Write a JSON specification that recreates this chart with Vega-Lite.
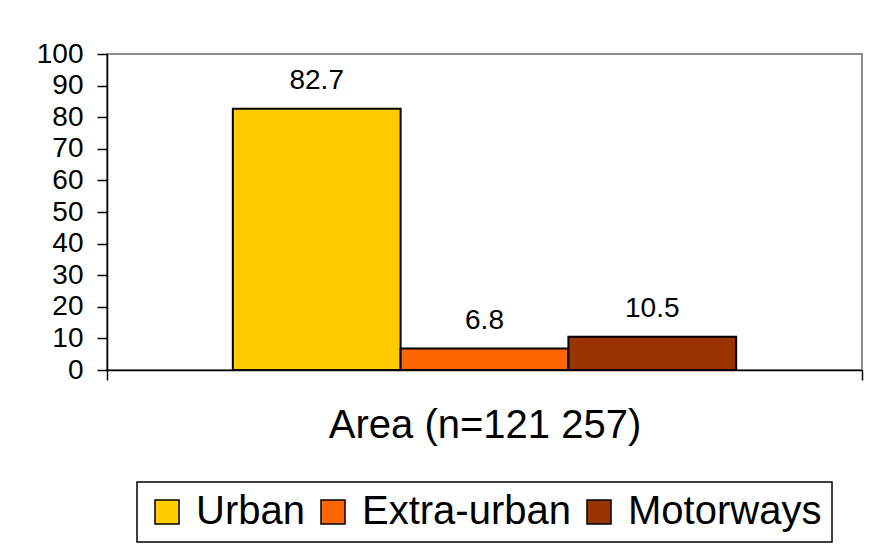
{
  "$schema": "https://vega.github.io/schema/vega-lite/v6.json",
  "width": 755,
  "height": 316,
  "autosize": {"type": "none"},
  "padding": {"left": 107, "top": 54, "right": 9, "bottom": 178},
  "background": "white",
  "config": {
    "font": "Liberation Sans",
    "view": {"stroke": "#8c8c8c", "strokeWidth": 2},
    "axis": {"grid": false, "domainColor": "black", "tickColor": "black", "labelColor": "black", "titleColor": "black", "domainWidth": 1.5, "tickWidth": 1.5, "labelFont": "Liberation Sans", "titleFont": "Liberation Sans"},
    "legend": {"strokeColor": "black", "strokeWidth": 1.5, "fillColor": "white", "symbolStrokeColor": "black", "symbolStrokeWidth": 1.5}
  },
  "data": {
    "values": [
      {"area": "Area", "type": "Urban", "pct": 82.7},
      {"area": "Area", "type": "Extra-urban", "pct": 6.8},
      {"area": "Area", "type": "Motorways", "pct": 10.5}
    ]
  },
  "encoding": {
    "x": {
      "field": "area", "type": "nominal",
      "scale": {"paddingInner": 0, "paddingOuter": 0},
      "axis": {"labels": false, "tickBand": "extent", "tickSize": 10, "title": "Area (n=121 257)", "titleFontSize": 40, "titleFontWeight": "normal", "titlePadding": 25}
    },
    "xOffset": {
      "field": "type", "type": "nominal",
      "sort": ["Urban", "Extra-urban", "Motorways"],
      "scale": {"paddingInner": 0, "paddingOuter": 0.75}
    },
    "y": {
      "field": "pct", "type": "quantitative",
      "scale": {"domain": [0, 100], "nice": false},
      "axis": {"values": [0, 10, 20, 30, 40, 50, 60, 70, 80, 90, 100], "title": null, "tickSize": 10, "labelFontSize": 28, "labelPadding": 14}
    }
  },
  "layer": [
    {
      "mark": {"type": "bar", "stroke": "black", "strokeWidth": 2},
      "encoding": {
        "color": {
          "field": "type", "type": "nominal",
          "sort": ["Urban", "Extra-urban", "Motorways"],
          "scale": {"domain": ["Urban", "Extra-urban", "Motorways"], "range": ["#FFCC00", "#FF6600", "#993300"]},
          "legend": {
            "title": null,
            "orient": "none",
            "direction": "horizontal",
            "legendX": 30,
            "legendY": 428,
            "symbolType": "square",
            "symbolSize": 576,
            "symbolOpacity": 1,
            "labelFontSize": 40,
            "labelLimit": 0,
            "labelColor": "black",
            "labelFont": "Liberation Sans",
            "labelOffset": 9,
            "columnPadding": 8,
            "padding": 10
          }
        }
      }
    },
    {
      "mark": {"type": "text", "baseline": "alphabetic", "dy": -20, "fontSize": 28, "color": "black", "font": "Liberation Sans"},
      "encoding": {
        "text": {"field": "pct", "type": "quantitative", "format": ".1f"}
      }
    }
  ]
}
